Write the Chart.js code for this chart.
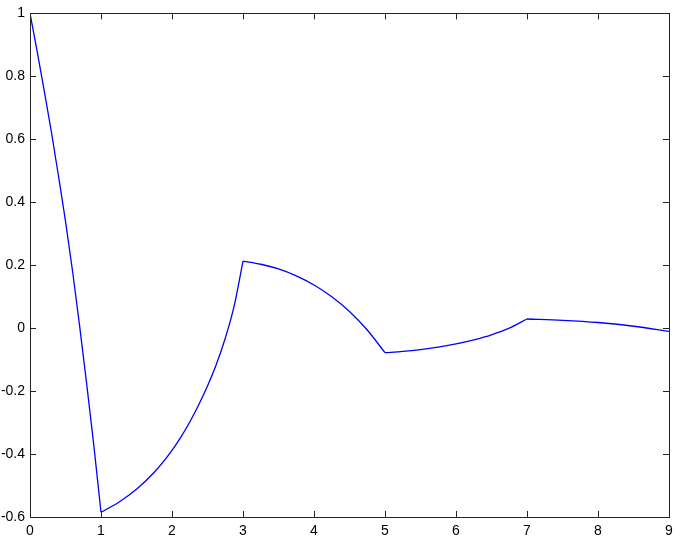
<!DOCTYPE html>
<html>
<head>
<meta charset="utf-8">
<script src="https://cdn.jsdelivr.net/npm/chart.js@4.4.1/dist/chart.umd.min.js"></script>
<style>
  html, body { margin: 0; padding: 0; background: #fff; }
  #wrap { width: 685px; height: 541px; }
</style>
</head>
<body>
<div id="wrap"><canvas id="chart"></canvas></div>
<script>
// values, one array pair per piece between the kinks
const t0 = [0, 0.1, 0.2, 0.3, 0.4, 0.5, 0.6, 0.7, 0.8, 0.9, 1];
const y0 = [1, 0.88, 0.755, 0.625, 0.485, 0.34, 0.18, 0.005, -0.18, -0.375, -0.585];

const t1 = [1, 1.25, 1.5, 1.75, 2, 2.125, 2.25, 2.375, 2.5, 2.625, 2.75, 2.875, 3];
const y1 = [-0.585, -0.553, -0.512, -0.458, -0.388, -0.346, -0.298, -0.244, -0.184, -0.115, -0.032, 0.07, 0.213];

const t2 = [3, 3.25, 3.5, 3.75, 4, 4.25, 4.5, 4.75, 5];
const y2 = [0.213, 0.203, 0.188, 0.166, 0.137, 0.1, 0.053, -0.006, -0.078];

const t3 = [5, 5.25, 5.5, 5.75, 6, 6.25, 6.5, 6.75, 7];
const y3 = [-0.078, -0.074, -0.068, -0.06, -0.05, -0.037, -0.021, 0, 0.029];

const t4 = [7, 7.5, 8, 8.5, 9];
const y4 = [0.029, 0.025, 0.018, 0.006, -0.01];

const xTicks = [0, 1, 2, 3, 4, 5, 6, 7, 8, 9];
const yTicks = [-0.6, -0.4, -0.2, 0, 0.2, 0.4, 0.6, 0.8, 1];

const pieces = [[t0, y0], [t1, y1], [t2, y2], [t3, y3], [t4, y4]];

const datasets = pieces.map(([ts, ys]) => ({
  data: ts.map((t, i) => ({ x: t, y: ys[i] })),
  borderColor: "#0000ff",
  borderWidth: 1.3,
  pointRadius: 0,
  fill: false,
  cubicInterpolationMode: "monotone",
}));

// box round the plot and ticks pointing inwards on all four sides
const boxTicks = {
  id: "boxTicks",
  afterDraw(chart) {
    const { ctx, chartArea: a, scales } = chart;
    const len = 6;
    ctx.save();
    ctx.strokeStyle = "#222";
    ctx.lineWidth = 1;
    ctx.beginPath();
    xTicks.forEach((v) => {
      const px = Math.round(scales.x.getPixelForValue(v)) + 0.5;
      ctx.moveTo(px, a.bottom);
      ctx.lineTo(px, a.bottom - len);
      ctx.moveTo(px, a.top);
      ctx.lineTo(px, a.top + len);
    });
    yTicks.forEach((v) => {
      const py = Math.round(scales.y.getPixelForValue(v)) + 0.5;
      ctx.moveTo(a.left, py);
      ctx.lineTo(a.left + len, py);
      ctx.moveTo(a.right, py);
      ctx.lineTo(a.right - len, py);
    });
    ctx.stroke();
    ctx.strokeRect(Math.round(a.left) + 0.5, Math.round(a.top) + 0.5,
      Math.round(a.right - a.left), Math.round(a.bottom - a.top));
    ctx.restore();
  },
};

const font = { family: "'Liberation Sans', Arial, Helvetica, sans-serif", size: 14 };

new Chart(document.getElementById("chart"), {
  type: "line",
  data: { datasets: datasets },
  options: {
    responsive: true,
    maintainAspectRatio: false,
    animation: false,
    layout: { padding: { left: 0, top: 13, right: 16, bottom: 0 } },
    plugins: { legend: { display: false }, tooltip: { enabled: false } },
    scales: {
      x: {
        type: "linear",
        min: 0,
        max: 9,
        afterBuildTicks: (s) => { s.ticks = xTicks.map((v) => ({ value: v })); },
        afterFit: (s) => { s.height = 24; },
        grid: { display: false, drawTicks: false },
        border: { display: false },
        ticks: { color: "#000", font: font, padding: 6, maxRotation: 0 },
      },
      y: {
        type: "linear",
        min: -0.6,
        max: 1,
        afterBuildTicks: (s) => { s.ticks = yTicks.map((v) => ({ value: v })); },
        afterFit: (s) => { s.width = 30; },
        grid: { display: false, drawTicks: false },
        border: { display: false },
        ticks: {
          color: "#000",
          font: font,
          padding: 5,
          callback: (v) => String(Number(v.toFixed(1))),
        },
      },
    },
  },
  plugins: [boxTicks],
});
</script>
</body>
</html>
